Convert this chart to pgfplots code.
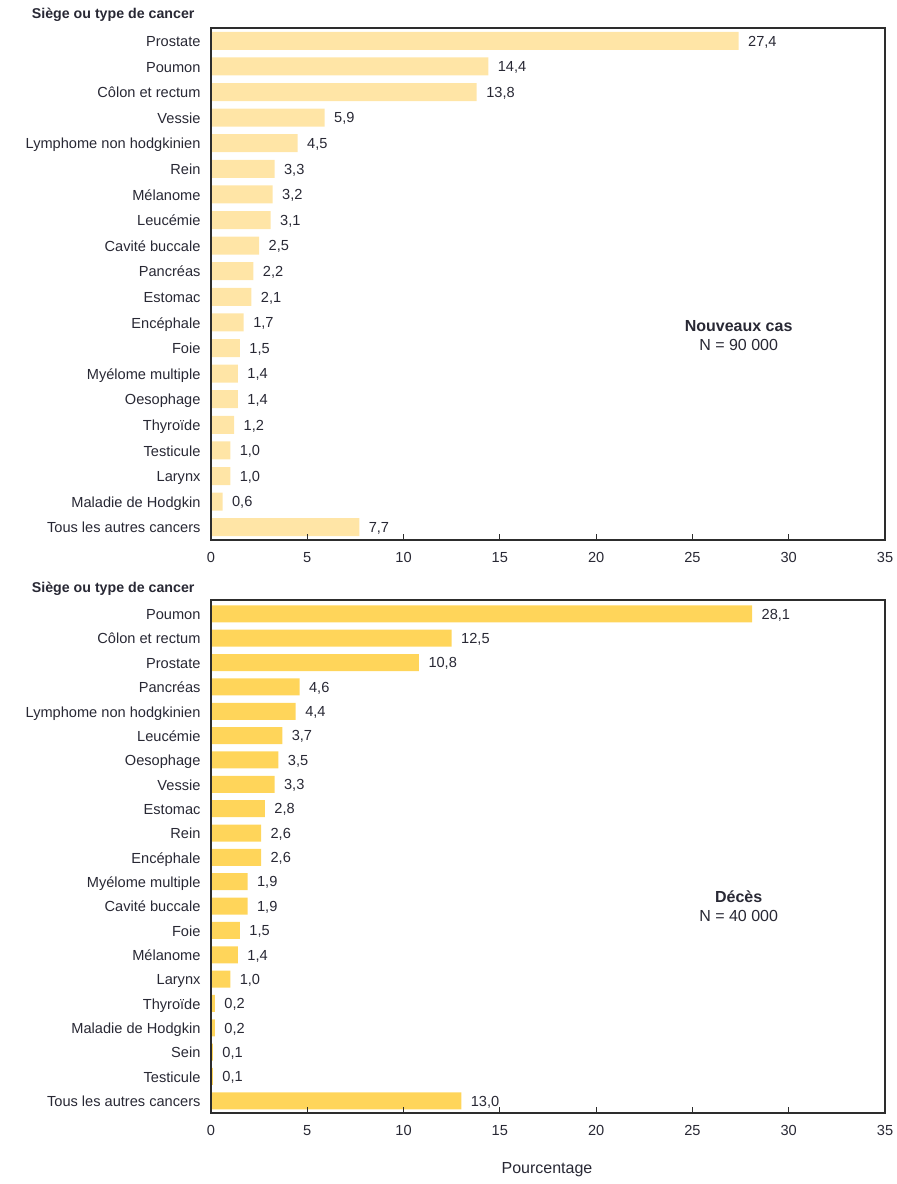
\documentclass[border=0pt]{standalone}
\usepackage{fontspec}
\setmainfont{Liberation Sans}
\usepackage{pgfplots}
\pgfplotsset{compat=1.18}

\definecolor{casbar}{RGB}{255,229,166}
\definecolor{decesbar}{RGB}{255,213,90}
\definecolor{framegray}{RGB}{45,45,45}
\definecolor{txt}{RGB}{40,40,52}

\newcommand{\lbl}{\fontsize{14.6}{16}\selectfont}
\newcommand{\bigtxt}{\fontsize{16}{19}\selectfont}

\pgfplotsset{
  cancerbars/.style={
    scale only axis,
    width=674pt,
    xmin=0, xmax=35,
    xtick={0,5,...,35},
    y dir=reverse,
    xbar,
    axis on top,
    axis line style={framegray, line width=1.1pt},
    tick align=inside,
    xtick pos=left,
    major tick length=6pt,
    xtick style={framegray, line width=1pt},
    ytick style={draw=none},
    tick label style={font=\lbl, text=txt, text height=10.5pt, text depth=3pt},
    xticklabel style={yshift=-8pt},
    yticklabel style={xshift=-7pt, yshift=-2pt},
    /pgf/number format/assume math mode=true,
    point meta=x,
    nodes near coords={\pgfmathprintnumber[fixed,fixed zerofill,precision=1,use comma,assume math mode=true]{\pgfplotspointmeta}},
    nodes near coords style={font=\lbl, text=txt, anchor=west, xshift=6pt, yshift=-1.5pt, text height=10.5pt, text depth=3pt},
  }
}

\begin{document}
\begin{tikzpicture}
\useasboundingbox (0,0) rectangle (897pt,-1184pt);

% Nouveaux cas
\node[anchor=east, font=\fontsize{14.2}{16}\selectfont\bfseries, text=txt] at (198pt,-15pt) {Siège ou type de cancer};
\begin{axis}[cancerbars,
  at={(211pt,-28pt)}, anchor=north west,
  height=512pt,
  ymin=-0.5, ymax=19.5,
  ytick={0,...,19},
  bar width=18pt,
  yticklabels={Prostate,Poumon,Côlon et rectum,Vessie,Lymphome non hodgkinien,Rein,Mélanome,Leucémie,Cavité buccale,Pancréas,Estomac,Encéphale,Foie,Myélome multiple,Oesophage,Thyroïde,Testicule,Larynx,Maladie de Hodgkin,Tous les autres cancers},
]
\addplot[fill=casbar, draw=none] coordinates {
  (27.4,0) (14.4,1) (13.8,2) (5.9,3) (4.5,4) (3.3,5) (3.2,6) (3.1,7)
  (2.5,8) (2.2,9) (2.1,10) (1.7,11) (1.5,12) (1.4,13) (1.4,14) (1.2,15)
  (1.0,16) (1.0,17) (0.6,18) (7.7,19)
};
\node[align=center, font=\bigtxt, text=txt] at (axis cs:27.4,11.5) {\textbf{Nouveaux cas}\\N = 90 000};
\end{axis}

% Décès
\node[anchor=east, font=\fontsize{14.2}{16}\selectfont\bfseries, text=txt] at (198pt,-589pt) {Siège ou type de cancer};
\begin{axis}[cancerbars,
  at={(211pt,-600pt)}, anchor=north west,
  height=513pt,
  ymin=-0.57, ymax=20.5,
  ytick={0,...,20},
  bar width=17pt,
  yticklabels={Poumon,Côlon et rectum,Prostate,Pancréas,Lymphome non hodgkinien,Leucémie,Oesophage,Vessie,Estomac,Rein,Encéphale,Myélome multiple,Cavité buccale,Foie,Mélanome,Larynx,Thyroïde,Maladie de Hodgkin,Sein,Testicule,Tous les autres cancers},
]
\addplot[fill=decesbar, draw=none] coordinates {
  (28.1,0) (12.5,1) (10.8,2) (4.6,3) (4.4,4) (3.7,5) (3.5,6) (3.3,7)
  (2.8,8) (2.6,9) (2.6,10) (1.9,11) (1.9,12) (1.5,13) (1.4,14) (1.0,15)
  (0.2,16) (0.2,17) (0.1,18) (0.1,19) (13.0,20)
};
\node[align=center, font=\bigtxt, text=txt] at (axis cs:27.4,12.0) {\textbf{Décès}\\N = 40 000};
\end{axis}

\node[font=\bigtxt, text=txt] at (547pt,-1170pt) {Pourcentage};
\end{tikzpicture}
\end{document}
